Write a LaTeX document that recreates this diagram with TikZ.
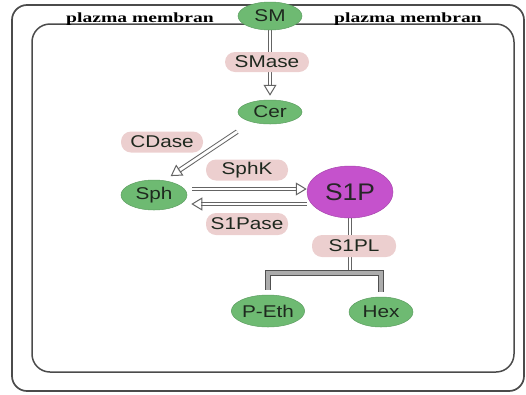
\documentclass[tikz,border=0pt]{standalone}
\usepackage{fontspec}
\setmainfont{Liberation Sans}
\newfontfamily\membfont{Liberation Serif}
\usetikzlibrary{shapes.geometric,arrows.meta,calc,backgrounds,decorations.markings}
\definecolor{ellgreen}{RGB}{110,186,114}
\definecolor{labpink}{RGB}{236,207,207}
\definecolor{sonep}{RGB}{197,82,204}
\definecolor{frameC}{RGB}{75,75,75}
\definecolor{conngray}{RGB}{100,100,100}
\definecolor{txtC}{RGB}{30,40,30}
\newcommand{\sx}[1]{\scalebox{1.22}[1]{#1}}
\begin{document}
\begin{tikzpicture}[x=1pt,y=-1pt,
  ell/.style={ellipse, fill=ellgreen, draw=ellgreen!85!black, line width=0.5pt, inner sep=0pt, text=txtC, font=\fontsize{17}{17}\selectfont},
  lab/.style={rounded corners=10pt, fill=labpink, inner sep=0pt, minimum width=82pt, minimum height=21pt, text=txtC, font=\fontsize{17}{17}\selectfont},
  conn/.style={draw=conngray, line width=1pt, double=white, double distance=2.8pt},
  arr/.style={conn, shorten >=10pt,
    decoration={markings, mark=at position 1 with {\pgfsetinnerlinewidth{0pt}\arrow[conngray,line width=1pt]{Triangle[open,length=11pt,width=13pt]}}},
    postaction=decorate},
  barline/.style={draw=conngray!80!black, line width=1pt, double=gray!65, double distance=3.6pt},
  membr/.style={font=\membfont\bfseries\fontsize{14}{14}\selectfont, inner sep=0pt, anchor=base west},
  frameline/.style={draw=frameC}]
\useasboundingbox (0,0) rectangle (526,394);
% frames
\draw[frameline, line width=1.7pt, rounded corners=15pt] (12,5) rectangle (524,391);
\draw[frameline, line width=1.5pt, rounded corners=18pt] (32,24) rectangle (514,372);
\node[membr] (pm1) at (66,22) {\scalebox{1.4}[1]{plazma membran}};
\node[membr] (pm2) at (334,22) {\scalebox{1.4}[1]{plazma membran}};
% metabolites
\node[ell, minimum width=64pt, minimum height=28pt] (SM) at (270,16) {\sx{SM}};
\node[ell, minimum width=64pt, minimum height=24pt] (Cer) at (270,112) {\sx{Cer}};
\node[ell, minimum width=66pt, minimum height=30pt] (Sph) at (154,195) {\sx{Sph}};
\node[ell, fill=sonep, draw=sonep!85!black, minimum width=86pt, minimum height=52pt, font=\fontsize{24}{24}\selectfont, text=black!85] (S1P) at (350,192) {\scalebox{1.1}[1]{S1P}};
\node[ell, minimum width=62pt, minimum height=32pt] (peth) at (268,311) {\sx{P-Eth}};
\node[ell, minimum width=64pt, minimum height=30pt] (hex) at (381,312) {\sx{Hex}};
\coordinate (bar) at (350,273);
% connectors
\begin{scope}[on background layer]
\draw[arr] (SM.south) -- ([yshift=4pt]Cer.north);
\draw[arr] ($(Cer.south west)+(-10,11)$) -- ($(Sph.north east)+(-7,-8)$);
\draw[arr] ([xshift=5pt,yshift=6pt]Sph.east) -- ([yshift=3pt]S1P.west);
\draw[arr] ([yshift=-12pt]S1P.west) -- ([xshift=4pt,yshift=-9pt]Sph.east);
\draw[conn] (S1P.south) -- (S1P.south |- bar);
\draw[barline] ([yshift=5pt]peth.north) -- (peth.north |- bar) -- (hex.north |- bar) -- ([yshift=5pt]hex.north);
\end{scope}
% enzymes
\node[lab, minimum width=84pt, minimum height=20pt] (SMase) at (267,62) {\sx{SMase}};
\node[lab] (CDase) at (162,142) {\sx{CDase}};
\node[lab] (SphK) at (247,170) {\sx{SphK}};
\node[lab, minimum height=22pt] (S1Pase) at (247,224) {\sx{S1Pase}};
\node[lab, minimum width=84pt, minimum height=22pt] (S1PL) at (354,246) {\sx{S1PL}};
\end{tikzpicture}
\end{document}
